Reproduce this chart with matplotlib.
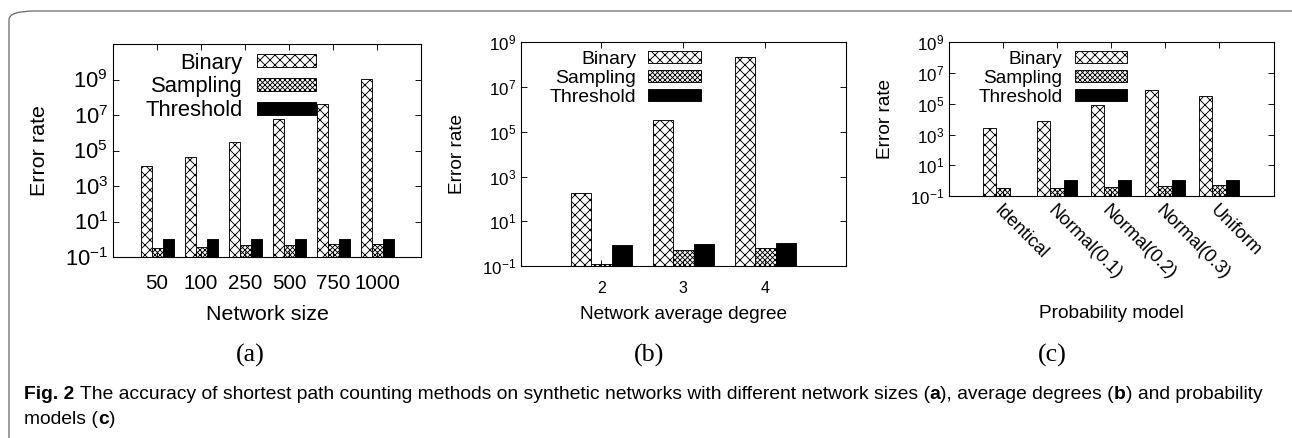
import numpy as np
import matplotlib
matplotlib.use('Agg')
import matplotlib.pyplot as plt
from matplotlib.patches import FancyBboxPatch
from matplotlib.ticker import FixedLocator, FixedFormatter, NullLocator

# data
methods = ['Binary', 'Sampling', 'Threshold']

size_cats = ['50', '100', '250', '500', '750', '1000']
size_binary = [1.4e4, 4.2e4, 3.1e5, 6.3e6, 4.3e7, 1.1e9]
size_sampling = [0.33, 0.38, 0.48, 0.48, 0.54, 0.54]
size_threshold = [1.0, 1.0, 1.0, 1.0, 1.0, 1.0]

deg_cats = ['2', '3', '4']
deg_binary = [190, 3.2e5, 2.3e8]
deg_sampling = [0.12, 0.52, 0.62]
deg_threshold = [0.87, 1.0, 1.07]

prob_cats = ['Identical', 'Normal(0.1)', 'Normal(0.2)', 'Normal(0.3)', 'Uniform']
prob_binary = [2.8e3, 7.2e3, 8.3e4, 7.6e5, 3.4e5]
prob_sampling = [0.32, 0.32, 0.38, 0.45, 0.5]
prob_threshold = [np.nan, 1.1, 1.1, 1.1, 1.1]

DPI = 120
PT = 72.0 / DPI  # px -> pt
plt.rcParams['font.family'] = ['Liberation Sans', 'DejaVu Sans']
plt.rcParams['mathtext.fontset'] = 'custom'
plt.rcParams['mathtext.rm'] = 'Liberation Sans'
plt.rcParams['hatch.linewidth'] = 0.9 * PT

fig = plt.figure(figsize=(1292 / DPI, 438 / DPI), dpi=DPI)

# rounded frame around the figure panel (right and bottom run off the page)
frame = FancyBboxPatch((9 / 1292, -0.2), 1330 / 1292, 1.2 - 11 / 438,
                       boxstyle='round,pad=0,rounding_size=0.02',
                       transform=fig.transFigure, fill=False,
                       edgecolor='#6e6e6e', lw=1.3 * PT, clip_on=False)
fig.patches.append(frame)

hatches = ['xxxx', 'xxxxxxxx', None]
faces = ['white', 'white', 'black']


def panel(rect, cats, series, xlim, ylim, tick_fs, ytick_fs, lab_fs, leg_fs,
          xlab, xlab_y, ylab_x, leg_anchor, leg_opts, xpad, rotate=False):
    ax = fig.add_axes(rect)
    x = np.arange(len(cats))
    w = 0.25
    bars = []
    for k, vals in enumerate(series):
        b = ax.bar(x + (k - 1) * w, vals, w, bottom=1e-3, color=faces[k],
                   hatch=hatches[k], edgecolor='black', lw=0.9 * PT,
                   label=methods[k])
        bars.append(b)
    ax.set_yscale('log')
    ax.set_ylim(*ylim)
    ax.set_xlim(*xlim)
    yt = [1e-1, 1e1, 1e3, 1e5, 1e7, 1e9]
    ax.yaxis.set_major_locator(FixedLocator(yt))
    ax.yaxis.set_major_formatter(FixedFormatter(
        [r'$\mathregular{10^{%d}}$' % e for e in [-1, 1, 3, 5, 7, 9]]))
    ax.yaxis.set_minor_locator(NullLocator())
    ax.set_xticks(x)
    if rotate:
        ax.set_xticklabels(cats, rotation=-45, ha='left', va='top',
                           rotation_mode='anchor', fontsize=lab_fs * 0.97)
    else:
        ax.set_xticklabels(cats, fontsize=tick_fs)
    ax.tick_params(axis='both', which='both', direction='in', top=True,
                   right=True, length=6 * PT, width=0.9 * PT)
    ax.tick_params(axis='y', pad=5 * PT, labelsize=ytick_fs)
    ax.tick_params(axis='x', pad=xpad)
    for s in ax.spines.values():
        s.set_linewidth(1.1 * PT)
    ax.set_xlabel(xlab, fontsize=lab_fs)
    ax.xaxis.set_label_coords(0.5, xlab_y)
    ax.set_ylabel('Error rate', fontsize=lab_fs)
    ax.yaxis.set_label_coords(ylab_x, 0.5)
    ax.legend(handles=bars, loc='upper right', bbox_to_anchor=leg_anchor,
              markerfirst=False, frameon=False, fontsize=leg_fs, borderpad=0,
              borderaxespad=0, **leg_opts)
    return ax


panel([113 / 1292, 1 - 257 / 438, 308 / 1292, 213 / 438],
      size_cats, [size_binary, size_sampling, size_threshold],
      (-1, 6), (1e-1, 1e11), 20.5 * PT, 22 * PT, 21.5 * PT, 22 * PT,
      'Network size', -0.225, -0.208,
      (0.659, 0.96), dict(handlelength=2.7, handleheight=0.5,
                          handletextpad=0.64, labelspacing=0.13),
      xpad=17 * PT)

panel([521 / 1292, 1 - 266 / 438, 324.7 / 1292, 223.7 / 438],
      deg_cats, [deg_binary, deg_sampling, deg_threshold],
      (-0.98, 2.98), (1e-1, 1e9), 16 * PT, 17 * PT, 19 * PT, 19.4 * PT,
      'Network average degree', -0.179, -0.17,
      (0.553, 0.962), dict(handlelength=2.7, handleheight=0.6,
                           handletextpad=0.62, labelspacing=0.1),
      xpad=15 * PT)

panel([949.3 / 1292, 1 - 196 / 438, 324.7 / 1292, 153.7 / 438],
      prob_cats, [prob_binary, prob_sampling, prob_threshold],
      (-0.99, 5.02), (1e-1, 1e9), 16 * PT, 17 * PT, 19 * PT, 19 * PT,
      'Probability model', -0.71, -0.171,
      (0.546, 0.945), dict(handlelength=2.7, handleheight=0.6,
                           handletextpad=0.68, labelspacing=0.1),
      xpad=6 * PT, rotate=True)

# sub-figure labels
for lx, s in [(250, '(a)'), (649, '(b)'), (1052, '(c)')]:
    fig.text(lx / 1292, 1 - 355 / 438, s, ha='center', va='center',
             family='Liberation Serif', fontsize=26 * PT)

# caption with bold parts
cap_font = ['Liberation Sans']
cap_size = 19.2 * PT
renderer = fig.canvas.get_renderer()


def width_of(s, bold):
    t = fig.text(0, 0, s, fontsize=cap_size, family=cap_font,
                 fontweight='bold' if bold else 'normal')
    wpx = t.get_window_extent(renderer).width
    t.remove()
    return wpx


space_px = width_of('x x', False) - width_of('xx', False)


def caption_line(x_px, y_px, parts):
    for s, bold in parts:
        if s.startswith(' '):
            x_px += space_px
            s = s.lstrip(' ')
        t = fig.text(x_px / 1292, 1 - y_px / 438, s, fontsize=cap_size,
                     family=cap_font, fontweight='bold' if bold else 'normal',
                     va='baseline')
        x_px += t.get_window_extent(renderer).width


caption_line(24, 399, [
    ('Fig. 2', True),
    (' The accuracy of shortest path counting methods on synthetic networks'
     ' with different network sizes (', False),
    ('a', True), ('), average degrees (', False), ('b', True),
    (') and probability', False)])
caption_line(24, 424, [('models (', False), ('c', True), (')', False)])

fig.savefig('out.png', dpi=DPI)
